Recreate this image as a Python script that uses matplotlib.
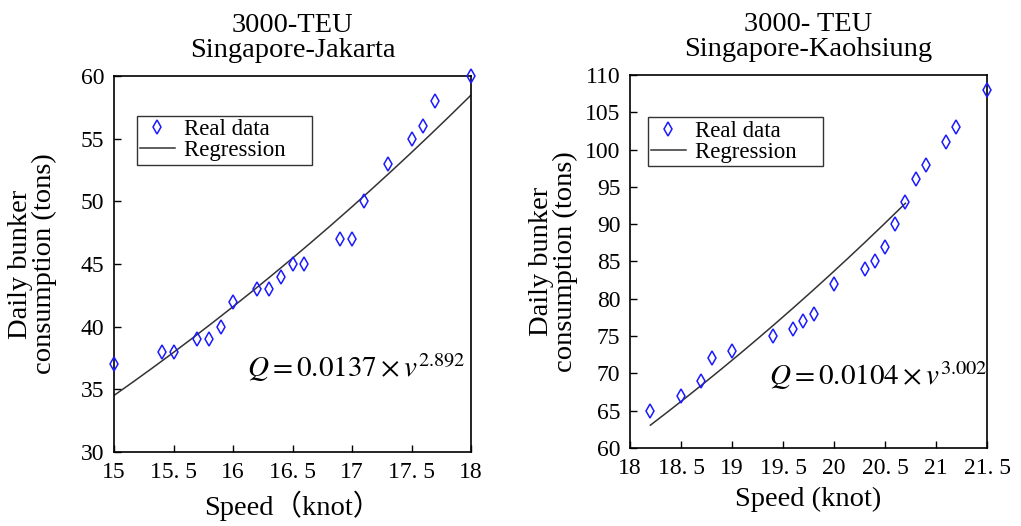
import numpy as np
import matplotlib.pyplot as plt

plt.rcParams['font.family'] = ['Liberation Serif', 'Noto Sans CJK SC', 'DejaVu Sans']
plt.rcParams['mathtext.fontset'] = 'stix'

# Singapore-Jakarta
speed_jk = [15.0, 15.4, 15.5, 15.7, 15.8, 15.9, 16.0, 16.2, 16.3, 16.4,
            16.5, 16.6, 16.9, 17.0, 17.1, 17.3, 17.5, 17.6, 17.7, 18.0]
fuel_jk = [37, 38, 38, 39, 39, 40, 42, 43, 43, 44,
           45, 45, 47, 47, 50, 53, 55, 56, 58, 60]
coef_jk, exp_jk = 0.0137, 2.892

# Singapore-Kaohsiung
speed_kh = [18.2, 18.5, 18.7, 18.8, 19.0, 19.4, 19.6, 19.7, 19.8, 20.0,
            20.3, 20.4, 20.5, 20.6, 20.7, 20.8, 20.9, 21.1, 21.2, 21.5]
fuel_kh = [65, 67, 69, 72, 73, 75, 76, 77, 78, 82,
           84, 85, 87, 90, 93, 96, 98, 101, 103, 108]
coef_kh, exp_kh = 0.0104, 3.002

xticks_jk = [15, 15.5, 16, 16.5, 17, 17.5, 18]
xlabels_jk = ['15', '15. 5', '16', '16. 5', '17', '17. 5', '18']
xticks_kh = [18, 18.5, 19, 19.5, 20, 20.5, 21, 21.5]
xlabels_kh = ['18', '18. 5', '19', '19. 5', '20', '20. 5', '21', '21. 5']

fig = plt.figure(figsize=(10.21, 5.26), dpi=100)
W, H = 1021, 526
ax1 = fig.add_axes([114 / W, 1 - 452 / H, 357 / W, 376 / H])
ax2 = fig.add_axes([630 / W, 1 - 448 / H, 357 / W, 373 / H])


def draw(ax, sp, fu, coef, ex, xfit, title, xlab, ylim, yticks, xticks, xlabels,
         eq, eqpos, legpos, ylab_x):
    ax.plot(sp, fu, linestyle='none', marker='d', markersize=7.5,
            markerfacecolor='none', markeredgecolor='#1a1aff', markeredgewidth=1.1,
            label='Real data', clip_on=False, zorder=3)
    v = np.linspace(xfit[0], xfit[1], 200)
    ax.plot(v, coef * v ** ex, color='#333333', lw=1.1, label='Regression    ')
    ax.set_xlim(xticks[0], xticks[-1])
    ax.set_ylim(*ylim)
    ax.set_xticks(xticks)
    ax.set_xticklabels(xlabels)
    ax.set_yticks(yticks)
    ax.tick_params(direction='in', length=5, width=1, labelsize=17, pad=7,
                   top=False, right=False)
    for s in ax.spines.values():
        s.set_linewidth(1.2)
    ax.set_title(title, fontsize=20.5, linespacing=1.0, pad=14)
    ax.set_xlabel(xlab, fontsize=20.5, labelpad=6)
    ax.set_ylabel('Daily bunker\nconsumption (tons)', fontsize=20.5, linespacing=0.95)
    ax.yaxis.set_label_coords(ylab_x, 0.5)
    ax.text(eqpos[0], eqpos[1], eq, fontsize=21)
    leg = ax.legend(loc='upper left', bbox_to_anchor=legpos, fontsize=16.5,
                    frameon=True, fancybox=False, edgecolor='black',
                    handlelength=1.5, handletextpad=0.4, borderpad=0.15,
                    labelspacing=0.0, borderaxespad=0)
    leg.get_frame().set_linewidth(1.0)


draw(ax1, speed_jk, fuel_jk, coef_jk, exp_jk, (15.0, 18.0),
     '3000-TEU\nSingapore-Jakarta', 'Speed（knot）', (30, 60),
     range(30, 61, 5), xticks_jk, xlabels_jk,
     r'$Q = 0.0137\times v^{2.892}$', (16.12, 36.0), (0.064, 0.894), -0.16)
draw(ax2, speed_kh, fuel_kh, coef_kh, exp_kh, (18.2, 20.7),
     '3000- TEU\nSingapore-Kaohsiung', 'Speed (knot)', (60, 110),
     range(60, 111, 5), xticks_kh, xlabels_kh,
     r'$Q = 0.0104\times v^{3.002}$', (19.36, 68.4), (0.05, 0.887), -0.145)

fig.savefig('out.png', dpi=100)
